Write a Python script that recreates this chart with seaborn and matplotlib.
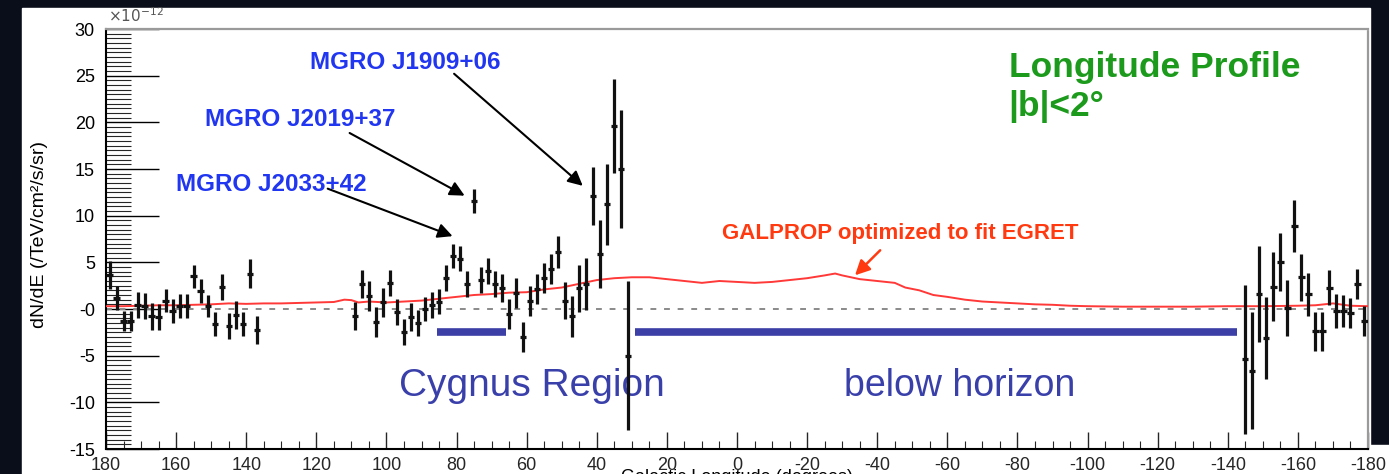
import matplotlib
matplotlib.use("Agg")
import matplotlib.pyplot as plt
import seaborn as sns
import pandas as pd
from matplotlib.patches import Rectangle
from matplotlib.ticker import MultipleLocator

# measured flux per 2 deg longitude bin, units of 1e-12 /TeV/cm2/s/sr
lon = [179, 177, 175, 173, 171, 169, 167, 165, 163, 161, 159, 157, 155, 153, 151,
       149, 147, 145, 143, 141, 139, 137,
       109, 107, 105, 103, 101, 99, 97, 95, 93, 91, 89, 87, 85, 83, 81, 79, 77, 75,
       73, 71, 69, 67, 65, 63, 61, 59, 57, 55, 53, 51, 49, 47, 45, 43, 41, 39, 37,
       35, 33, 31,
       -145, -147, -149, -151, -153, -155, -157, -159, -161, -163, -165, -167,
       -169, -171, -173, -175, -177, -179]
flux = [3.6, 1.2, -1.3, -1.3, 0.4, 0.3, -0.8, -0.9, 0.9, -0.2, 0.3, 0.3, 3.5, 1.9, 0.3,
        -1.6, 2.4, -1.8, -0.6, -1.6, 3.8, -2.3,
        -0.8, 2.7, 1.4, -1.4, 0.7, 2.8, -0.3, -2.5, -0.9, -1.5, 0.0, 0.4, 0.8, 3.3, 5.7,
        5.4, 2.7, 11.6, 3.1, 4.1, 2.7, 2.3, -0.5, 1.7, -3.0, 0.9, 2.1, 3.3, 4.3, 6.1,
        0.9, -0.8, 2.2, 2.7, 12.1, 5.9, 11.2, 19.6, 15.0, -5.0,
        -5.4, -6.6, 1.6, -3.1, 2.4, 5.0, 0.1, 8.9, 3.4, 1.6, -2.4, -2.4, 2.3, -0.2,
        -0.2, -0.4, 2.7, -1.3]
flux_err = [1.5, 1.3, 1.1, 1.1, 1.4, 1.4, 1.4, 1.4, 1.2, 1.3, 1.3, 1.3, 1.2, 1.3, 1.2,
            1.3, 1.4, 1.4, 1.5, 1.3, 1.6, 1.5,
            1.5, 1.5, 1.6, 1.6, 1.6, 1.4, 1.4, 1.4, 1.5, 1.4, 1.3, 1.4, 1.3, 1.4, 1.3,
            1.3, 1.4, 1.3, 1.4, 1.4, 1.4, 1.5, 1.6, 1.6, 1.6, 1.6, 1.6, 1.6, 1.6, 1.7,
            2.0, 2.2, 2.5, 2.8, 3.1, 3.6, 4.3, 5.0, 6.3, 8.0,
            8.0, 6.3, 5.1, 4.4, 3.7, 3.1, 3.0, 2.8, 2.5, 2.3, 2.1, 2.1, 1.9, 1.8,
            1.7, 1.6, 1.6, 1.6]

# GALPROP model curve
galprop_lon = [180, 175, 170, 165, 160, 155, 150, 145, 140, 135, 130, 125, 120, 115,
               112, 110, 108, 105, 100, 95, 90, 85, 80, 75, 70, 65, 60, 55, 50, 45,
               40, 35, 30, 25, 20, 15, 10, 5, 0, -5, -10, -15, -20, -25, -28, -30,
               -35, -40, -45, -48, -52, -56, -60, -65, -70, -75, -80, -85, -90, -95,
               -100, -110, -120, -130, -140, -150, -160, -165, -170, -172, -175, -180]
galprop_flux = [0.3, 0.3, 0.35, 0.4, 0.4, 0.45, 0.5, 0.6, 0.55, 0.6, 0.6, 0.65, 0.7,
                0.75, 1.0, 0.95, 0.7, 0.8, 0.7, 0.8, 0.9, 1.1, 1.3, 1.5, 1.6, 1.75,
                1.8, 2.1, 2.3, 2.7, 3.1, 3.3, 3.4, 3.4, 3.2, 3.0, 2.8, 3.0, 2.9, 2.8,
                2.9, 3.1, 3.3, 3.6, 3.8, 3.6, 3.2, 3.0, 2.8, 2.3, 2.0, 1.5, 1.3, 1.0,
                0.8, 0.7, 0.6, 0.5, 0.45, 0.35, 0.3, 0.25, 0.25, 0.25, 0.3, 0.3, 0.35,
                0.4, 0.6, 0.5, 0.35, 0.3]

region_names = ["Cygnus Region", "below horizon"]
region_start = [85.5, 29]
region_end = [66, -142.5]

W, H = 1389, 474
sns.set_style("ticks")
plt.rcParams['font.family'] = ['Liberation Sans', 'DejaVu Sans']
plt.rcParams['axes.unicode_minus'] = False

fig = plt.figure(figsize=(W / 100, H / 100), dpi=100, facecolor="#0a0e1a")
fig.add_artist(Rectangle((22 / W, 0), (1370 - 22) / W, (H - 8) / H,
                         transform=fig.transFigure, facecolor="white", zorder=0))
fig.add_artist(Rectangle((1370 / W, 0), 19 / W, 29 / H,
                         transform=fig.transFigure, facecolor="white", zorder=0))

ax = fig.add_axes([106 / W, 25 / H, 1262 / W, 420 / H])
ax.set_facecolor("white")

ax.axhline(0, color="#8a8a8a", lw=1.4, ls=(0, (3, 4)), zorder=1)

galprop = pd.DataFrame({"lon": galprop_lon, "flux": galprop_flux})
sns.lineplot(data=galprop, x="lon", y="flux", ax=ax, color="#ff3838", lw=1.4,
             sort=False, zorder=3)

ax.errorbar(lon, flux, yerr=flux_err, xerr=0.9, fmt="none", ecolor="#111111",
            elinewidth=2.3, capsize=0, zorder=4)

for name, a, b in zip(region_names, region_start, region_end):
    ax.plot([a, b], [-2.5, -2.5], color="#3b3fa6", lw=5.5, solid_capstyle="butt", zorder=2)

ax.text(96.5, -8.2, "Cygnus Region", color="#3a40aa", fontsize=28, ha="left", va="center")
ax.text(-30.5, -8.2, "below horizon", color="#3a40aa", fontsize=27, ha="left", va="center")

ax.text(-77.5, 25.9, "Longitude Profile", color="#1c9a1c", fontsize=25.5,
        fontweight="bold", ha="left", va="center")
ax.text(-77.5, 21.7, "|b|<2°", color="#1c9a1c", fontsize=25.5,
        fontweight="bold", ha="left", va="center")

blue = "#2036f0"
ax.text(121.8, 26.4, "MGRO J1909+06", color=blue, fontsize=17.5, fontweight="bold", va="center")
ax.text(151.7, 20.3, "MGRO J2019+37", color=blue, fontsize=17.5, fontweight="bold", va="center")
ax.text(160.0, 13.3, "MGRO J2033+42", color=blue, fontsize=17.5, fontweight="bold", va="center")
ax.text(4.3, 8.1, "GALPROP optimized to fit EGRET", color="#ff3a10", fontsize=16,
        fontweight="bold", va="center")

arrow = dict(arrowstyle="-|>", color="black", lw=1.5, mutation_scale=22)
ax.annotate("", xy=(43.4, 13.0), xytext=(81.3, 25.4), arrowprops=arrow)
ax.annotate("", xy=(77.0, 12.0), xytext=(111.2, 19.0), arrowprops=arrow)
ax.annotate("", xy=(80.4, 7.7), xytext=(117.5, 13.0), arrowprops=arrow)
ax.annotate("", xy=(-33.1, 3.4), xytext=(-41.4, 6.5),
            arrowprops=dict(arrowstyle="-|>", color="#ff3a10", lw=1.8, mutation_scale=22))

ax.set_xlim(180, -180)
ax.set_ylim(-15, 30)
ax.xaxis.set_major_locator(MultipleLocator(20))
ax.xaxis.set_minor_locator(MultipleLocator(5))
ax.yaxis.set_major_locator(MultipleLocator(5))
ax.yaxis.set_minor_locator(MultipleLocator(0.5))
ax.set_yticks([-15, -10, -5, 0, 5, 10, 15, 20, 25, 30])
ax.set_yticklabels(["-15", "-10", "-5", "-0", "5", "10", "15", "20", "25", "30"])
ax.tick_params(axis="y", which="major", direction="in", length=38, width=1,
               labelsize=13, pad=8, colors="black")
ax.tick_params(axis="y", which="minor", direction="in", length=18, width=0.8)
ax.tick_params(axis="x", which="major", direction="in", length=12, width=1,
               labelsize=13, pad=6)
ax.tick_params(axis="x", which="minor", direction="in", length=6, width=0.8)
ax.set_xlabel("")
ax.set_ylabel("")

for s in ["left", "bottom"]:
    ax.spines[s].set_color("black")
    ax.spines[s].set_linewidth(1.5)
for s in ["top", "right"]:
    ax.spines[s].set_color("#9a9a9a")
    ax.spines[s].set_linewidth(1.6)
    ax.spines[s].set_linestyle((0, (2, 1)))

fig.text(108 / W, 1 - 16 / H, r"$\times10^{-12}$", fontsize=11, color="#555555",
         ha="left", va="center")
fig.text(40 / W, 1 - 235 / H, "dN/dE (/TeV/cm²/s/sr)", fontsize=14, rotation=90,
         ha="center", va="center", color="black")
fig.text(737 / W, 1 - 469 / H, "Galactic Longitude (degrees)", fontsize=13,
         ha="center", va="top", color="black")

fig.savefig("out.png", dpi=100, facecolor=fig.get_facecolor())
